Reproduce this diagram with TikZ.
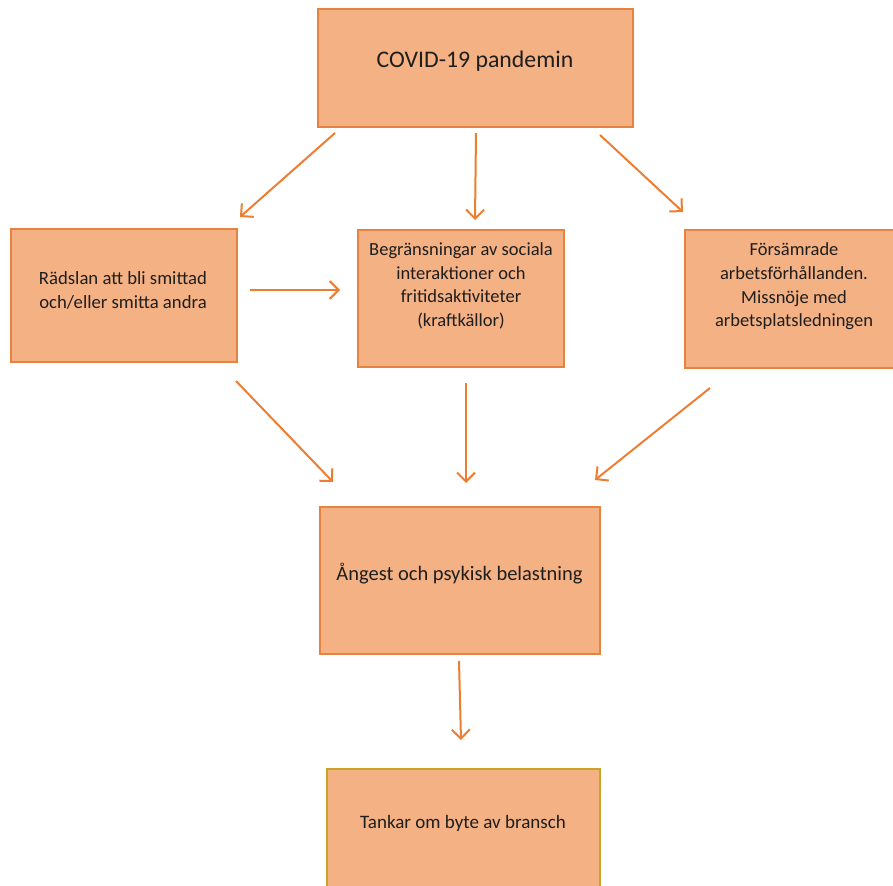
\documentclass[tikz,border=0pt]{standalone}
\usepackage{fontspec}
\setmainfont{Carlito}
\usetikzlibrary{arrows.meta}
\definecolor{boxfill}{HTML}{F4B183}
\definecolor{boxline}{HTML}{E8833F}
\definecolor{goldline}{HTML}{C9A227}
\definecolor{arrowc}{HTML}{ED7D31}
\definecolor{txt}{HTML}{1E1E1E}
\tikzset{
  box/.style={draw=boxline, line width=1.2pt, fill=boxfill, inner sep=0pt},
  lbl/.style={inner sep=0pt, align=center, text=txt},
  arr/.style={draw=arrowc, line width=2pt, -{Straight Barb[length=9pt,width=18pt,line width=2pt]}},
  small/.style={font=\fontsize{18.5}{23.6}\selectfont},
  mid/.style={font=\fontsize{18.7}{24}\selectfont}
}
\begin{document}
\begin{tikzpicture}[x=1pt,y=-1pt]
\useasboundingbox (0,0) rectangle (893,885);
% boxes
\node[box, minimum width=315pt, minimum height=118pt] (covid) at (475.5,68) {};
\node[box, minimum width=226pt, minimum height=133pt] (rad) at (124,295.5) {};
\node[box, minimum width=206pt, minimum height=137pt] (beg) at (461,298.5) {};
\node[box, minimum width=212pt, minimum height=138pt] (fors) at (791,299) {};
\node[box, minimum width=280pt, minimum height=147pt] (ang) at (460,580.5) {};
\node[box, draw=goldline, minimum width=273pt, minimum height=130pt] (tank) at (463.5,834) {};
% texts
\node[lbl, font=\fontsize{23.8}{28}\selectfont] (covidt) at (475,61) {COVID-19 pandemin};
\node[lbl, mid] (radt) at (123,290) {Rädslan att bli smittad\\och/eller smitta andra};
\node[lbl, small] (begt) at (461,286) {Begränsningar av sociala\\interaktioner och\\fritidsaktiviteter\\(kraftkällor)};
\node[lbl, small] (forst) at (794,286.5) {Försämrade\\arbetsförhållanden.\\Missnöje med\\arbetsplatsledningen};
\node[lbl, font=\fontsize{20.5}{25}\selectfont] (angt) at (459.5,574) {Ångest och psykisk belastning};
\node[lbl, font=\fontsize{19}{24}\selectfont] (tankt) at (463,823) {Tankar om byte av bransch};
% connector end points
\coordinate (a1s) at (335,133); \coordinate (a1e) at (240,217);
\coordinate (a2s) at (476,133); \coordinate (a2e) at (475,220);
\coordinate (a3s) at (600,135); \coordinate (a3e) at (683,212);
\coordinate (a4s) at (250,290); \coordinate (a4e) at (340,290);
\coordinate (a5s) at (236,381); \coordinate (a5e) at (333,482);
\coordinate (a6s) at (466,383); \coordinate (a6e) at (466,483);
\coordinate (a7s) at (710,388); \coordinate (a7e) at (595,480);
\coordinate (a8s) at (459,661); \coordinate (a8e) at (461,740);
\draw[arr] (a1s) -- (a1e);
\draw[arr] (a2s) -- (a2e);
\draw[arr] (a3s) -- (a3e);
\draw[arr] (a4s) -- (a4e);
\draw[arr] (a5s) -- (a5e);
\draw[arr] (a6s) -- (a6e);
\draw[arr] (a7s) -- (a7e);
\draw[arr] (a8s) -- (a8e);
\end{tikzpicture}
\end{document}
